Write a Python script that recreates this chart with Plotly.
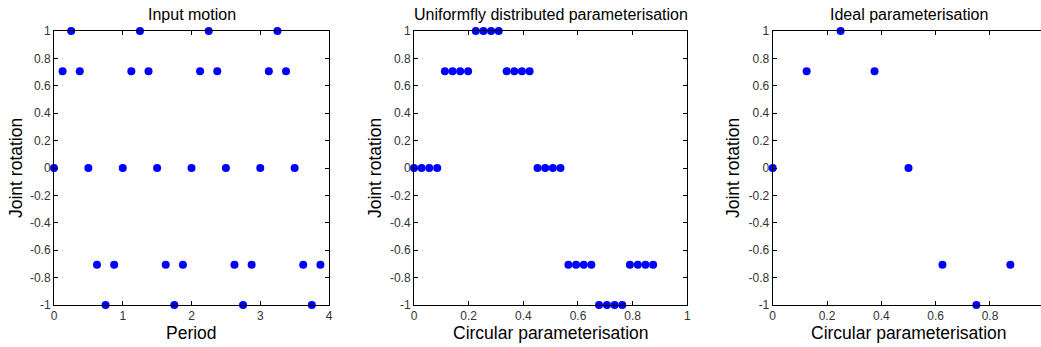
import plotly.graph_objects as go

# ---- data ----
input_period = [0, 0.125, 0.25, 0.375, 0.5, 0.625, 0.75, 0.875,
                1, 1.125, 1.25, 1.375, 1.5, 1.625, 1.75, 1.875,
                2, 2.125, 2.25, 2.375, 2.5, 2.625, 2.75, 2.875,
                3, 3.125, 3.25, 3.375, 3.5, 3.625, 3.75, 3.875]
input_rotation = [0, 0.707, 1, 0.707, 0, -0.707, -1, -0.707,
                  0, 0.707, 1, 0.707, 0, -0.707, -1, -0.707,
                  0, 0.707, 1, 0.707, 0, -0.707, -1, -0.707,
                  0, 0.707, 1, 0.707, 0, -0.707, -1, -0.707]

uniform_param = [0.000, 0.028, 0.056, 0.085, 0.113, 0.141, 0.169, 0.198,
                 0.226, 0.254, 0.282, 0.310, 0.339, 0.367, 0.395, 0.423,
                 0.452, 0.480, 0.508, 0.536, 0.565, 0.593, 0.621, 0.649,
                 0.677, 0.706, 0.734, 0.762, 0.790, 0.819, 0.847, 0.875]
uniform_rotation = [0, 0, 0, 0, 0.707, 0.707, 0.707, 0.707,
                    1, 1, 1, 1, 0.707, 0.707, 0.707, 0.707,
                    0, 0, 0, 0, -0.707, -0.707, -0.707, -0.707,
                    -1, -1, -1, -1, -0.707, -0.707, -0.707, -0.707]

ideal_param = [0, 0.125, 0.25, 0.375, 0.5, 0.625, 0.75, 0.875]
ideal_rotation = [0, 0.707, 1, 0.707, 0, -0.707, -1, -0.707]

y_ticks = [1, 0.8, 0.6, 0.4, 0.2, 0, -0.2, -0.4, -0.6, -0.8, -1]
y_ticklabels = ["1", "0.8", "0.6", "0.4", "0.2", "0", "-0.2", "-0.4", "-0.6", "-0.8", "-1"]
x1_ticks = [0, 1, 2, 3, 4]
x2_ticks = [0, 0.2, 0.4, 0.6, 0.8, 1]
x3_ticks = [0, 0.2, 0.4, 0.6, 0.8]

titles = ["Input motion", "Uniformfly distributed parameterisation", "Ideal parameterisation"]
xlabels = ["Period", "Circular parameterisation", "Circular parameterisation"]
ylabel = "Joint rotation"

# ---- figure ----
W, H = 1041, 347
FONT = "Liberation Sans, Arial, sans-serif"
fig = go.Figure()

marker = dict(color="#0000FF", size=8, line=dict(width=0))
fig.add_trace(go.Scatter(x=input_period, y=input_rotation, mode="markers",
                         marker=marker, xaxis="x", yaxis="y", cliponaxis=False))
fig.add_trace(go.Scatter(x=uniform_param, y=uniform_rotation, mode="markers",
                         marker=marker, xaxis="x2", yaxis="y2", cliponaxis=False))
fig.add_trace(go.Scatter(x=ideal_param, y=ideal_rotation, mode="markers",
                         marker=marker, xaxis="x3", yaxis="y3", cliponaxis=False))

ydom = [1 - 305 / H, 1 - 31 / H]
doms = [[54 / W, 329 / W], [414 / W, 687.3 / W], [772.7 / W, 1.0]]
xranges = [[0, 4], [0, 1], [0, (W - 772.7) / 271.6]]
xticks = [x1_ticks, x2_ticks, x3_ticks]

tickfont = dict(family=FONT, size=12, color="#333333")
axcommon = dict(showgrid=False, zeroline=False, showline=True, linecolor="black",
                linewidth=1, ticks="inside", ticklen=4, tickcolor="black",
                tickfont=tickfont, automargin=False)

layout = dict(width=W, height=H, margin=dict(l=0, r=0, t=0, b=0, pad=0, autoexpand=False),
              paper_bgcolor="white", plot_bgcolor="white", showlegend=False)

for i in range(3):
    sx = "" if i == 0 else str(i + 1)
    mirror_y = "ticks" if i < 2 else False
    layout["xaxis" + sx] = dict(domain=doms[i], range=xranges[i], anchor="y" + sx,
                                tickvals=xticks[i], ticktext=[("%g" % v) for v in xticks[i]],
                                mirror="ticks", fixedrange=True, **axcommon)
    layout["yaxis" + sx] = dict(domain=ydom, range=[-1, 1], anchor="x" + sx,
                                tickvals=y_ticks, ticktext=y_ticklabels,
                                mirror=mirror_y, fixedrange=True, **axcommon)

annotations = []
centers = [(54 + 329) / 2, (414 + 687.3) / 2, (772.7 + 772.7 + 271.6) / 2]
for i in range(3):
    cx = centers[i] / W
    annotations.append(dict(text=titles[i], x=cx, y=1 - 14 / H, xref="paper", yref="paper",
                            showarrow=False, xanchor="center", yanchor="middle",
                            font=dict(family=FONT, size=16, color="black")))
    annotations.append(dict(text=xlabels[i], x=cx, y=1 - 333 / H, xref="paper", yref="paper",
                            showarrow=False, xanchor="center", yanchor="middle",
                            font=dict(family=FONT, size=17.5, color="black")))
ylab_x = [16, 375, 733]
for i in range(3):
    annotations.append(dict(text=ylabel, x=ylab_x[i] / W, y=1 - 168 / H, xref="paper", yref="paper",
                            showarrow=False, xanchor="center", yanchor="middle", textangle=-90,
                            font=dict(family=FONT, size=17.5, color="black")))
layout["annotations"] = annotations

fig.update_layout(**layout)
fig.write_html("out.html")
